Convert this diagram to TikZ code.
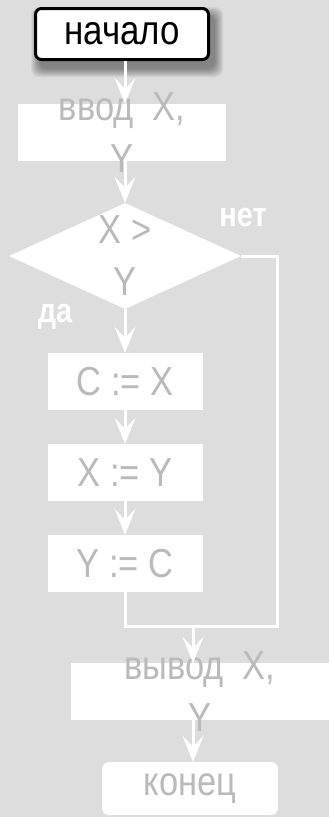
\documentclass[tikz,border=0pt]{standalone}
\usepackage{fontspec}
\setmainfont{Liberation Sans}[FakeStretch=0.85]
\usetikzlibrary{shapes.geometric,arrows.meta,backgrounds,calc}
\definecolor{bgc}{RGB}{221,221,221}
\definecolor{txtc}{RGB}{186,186,186}
\begin{document}
\begin{tikzpicture}[x=1pt,y=-1pt,
  box/.style={fill=white, inner sep=0pt, draw=none},
  txt/.style={text=txtc, font=\fontsize{40.5}{52}\selectfont, align=center, inner sep=0pt},
  lbl/.style={text=white, font=\fontsize{34}{38}\selectfont\bfseries, inner sep=0pt},
  arr/.style={draw=white, line width=3pt, -{Stealth[length=26pt,width=21pt,inset=11pt]}},
  conn/.style={draw=white, line width=3pt, line join=miter}]
\useasboundingbox (0,0) rectangle (329,817);

\node[draw=black, line width=3pt, fill=white, rounded corners=6pt,
      minimum width=173pt, minimum height=51pt, inner sep=0pt,
      font=\fontsize{41}{48}\selectfont, text=black] (start) at (122,34) {начало};

\node[box, minimum width=208pt, minimum height=57pt,
      label={[txt]center:{ввод~~X,\\Y}}] (in) at (122,132.5) {};

\node[box, diamond, minimum width=232pt, minimum height=106pt,
      label={[txt]center:{X >\\Y}}] (cond) at (125,256) {};

\node[box, minimum width=155pt, minimum height=57pt,
      label={[txt]center:{C := X}}] (s1) at (125,381.5) {};
\node[box, minimum width=155pt, minimum height=57pt,
      label={[txt]center:{X := Y}}] (s2) at (125,472.5) {};
\node[box, minimum width=155pt, minimum height=57pt,
      label={[txt]center:{Y := C}}] (s3) at (125,563.5) {};

\node[box, minimum width=258pt, minimum height=57pt,
      label={[txt]center:{вывод~~X,\\Y}}] (out) at (200,691.5) {};

\node[box, rounded corners=7pt, minimum width=176pt, minimum height=53pt,
      label={[txt]center:{конец}}] (stop) at (190,788.5) {};

\node[lbl, anchor=base] (no) at (243,226) {нет};
\node[lbl, anchor=base] (yes) at (55,322) {да};

\coordinate (jr) at (277,626);
\coordinate (jm) at (193,626);

\draw[arr] (start.south -| cond.north) -- (in.north -| cond.north);
\draw[arr] (in.south -| cond.north) -- (cond.north);
\draw[arr] (cond.south) -- (s1.north);
\draw[arr] (s1.south) -- (s2.north);
\draw[arr] (s2.south) -- (s3.north);
\draw[conn] (cond.east) -| (jr) -- (s3.south |- jr) -- (s3.south);
\draw[arr] (jm) -- (jm |- out.north);
\draw[arr] (out.south -| jm) -- (stop.north -| jm);

\begin{scope}[on background layer]
  \fill[bgc] (0,0) rectangle (329,817);
  \foreach \i in {0,...,8}
    \fill[black, opacity=0.05, rounded corners=8pt]
      ($(start.south west)+(5-\i,8+\i)$) rectangle ($(start.north east)+(5+\i,8-\i)$);
\end{scope}
\end{tikzpicture}
\end{document}
